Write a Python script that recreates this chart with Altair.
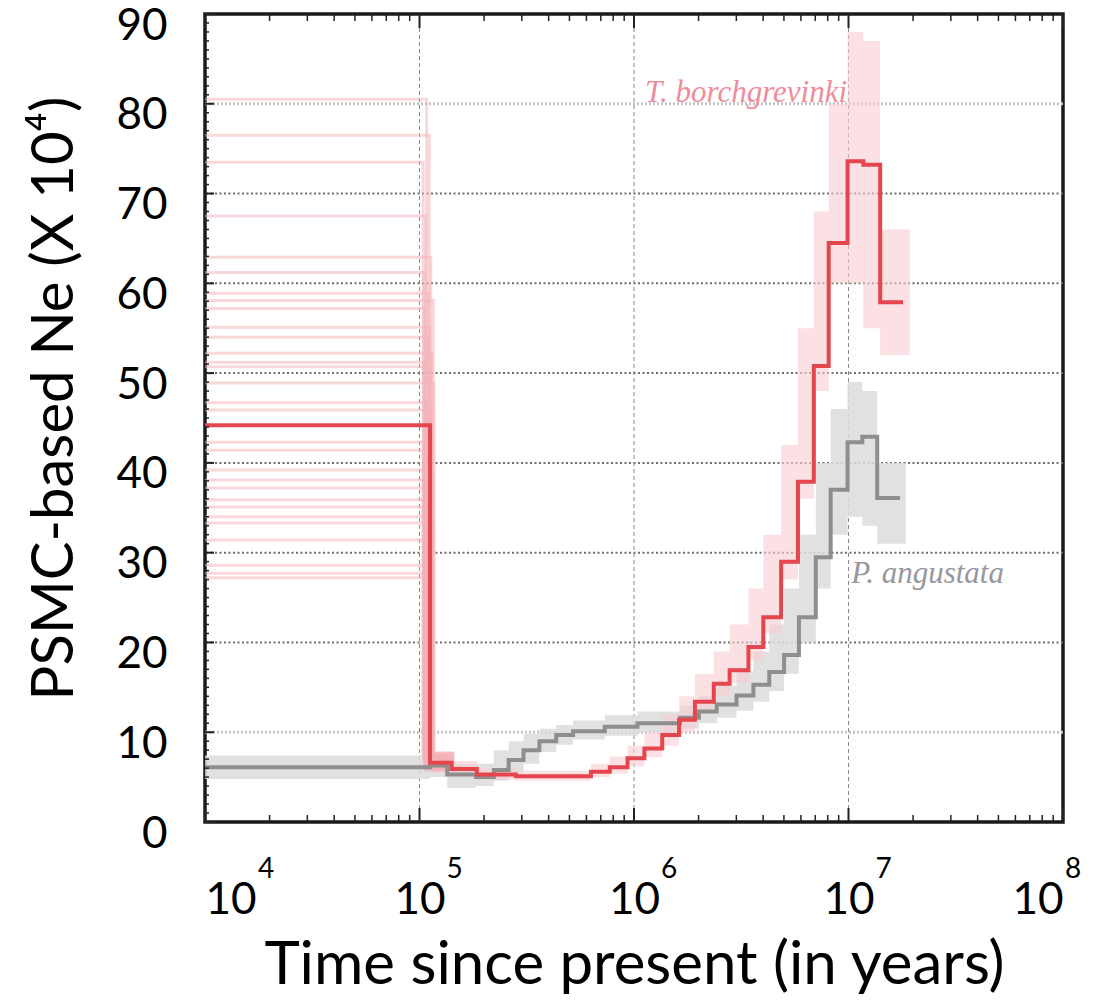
import altair as alt
import pandas as pd

# ---------------- data ----------------
# T. borchgrevinki main PSMC curve (step starts, years) and Ne (x 10^4)
red_t = [1e4, 1.12e5, 1.41e5, 1.85e5, 2.81e5, 6.30e5, 7.71e5, 9.33e5, 1.118e6, 1.354e6,
         1.622e6, 1.923e6, 2.355e6, 2.791e6, 3.417e6, 4.007e6, 4.852e6, 5.813e6, 6.892e6,
         8.084e6, 9.90e6, 1.173e7, 1.405e7, 1.795e7]
red_ne = [44.2, 6.6, 5.9, 5.3, 5.1, 5.6, 6.1, 7.1, 8.2, 9.7, 11.4, 13.4, 15.4, 16.9, 19.5,
          22.8, 29.0, 37.9, 50.8, 64.5, 73.6, 73.2, 57.9, 57.9]

# bootstrap envelope of T. borchgrevinki
red_band_t = [1.12e5, 1.41e5, 1.85e5, 2.81e5, 6.30e5, 7.71e5, 9.33e5, 1.118e6, 1.354e6, 1.622e6,
              1.923e6, 2.355e6, 2.791e6, 3.417e6, 4.007e6, 4.852e6, 5.813e6, 6.892e6, 8.084e6,
              9.90e6, 1.173e7, 1.405e7, 1.93e7]
red_lo = [5.5, 5.0, 4.7, 4.6, 5.0, 5.4, 6.2, 7.2, 8.5, 10.0, 12.0, 14.0, 15.5, 18.0, 21.0,
          27.0, 36.0, 48.0, 60.0, 60.0, 55.0, 52.0, 52.0]
red_hi = [7.5, 6.8, 6.0, 5.7, 6.5, 7.3, 8.5, 10.0, 12.0, 14.0, 16.5, 19.0, 22.0, 26.0, 32.0,
          42.0, 55.0, 68.0, 80.0, 88.0, 87.0, 66.0, 66.0]

# bootstrap lines of T. borchgrevinki in the recent period
boot_level = [80.5, 76.5, 73.5, 67.5, 62.9, 61.2, 58.9, 58.1, 57.2, 55.1, 54.0, 52.2, 51.2,
              50.7, 48.9, 46.7, 45.9, 42.3, 41.4, 39.2, 38.1, 37.2, 35.9, 35.1, 34.0, 33.3,
              31.4, 28.6, 27.7, 27.2]
boot_end = [1.08e5, 1.11e5, 1.04e5, 1.07e5, 1.13e5, 1.05e5, 1.10e5, 1.16e5, 1.06e5, 1.12e5,
            1.09e5, 1.14e5, 1.05e5, 1.11e5, 1.17e5, 1.07e5, 1.13e5, 1.10e5, 1.04e5, 1.15e5,
            1.08e5, 1.12e5, 1.06e5, 1.14e5, 1.09e5, 1.16e5, 1.05e5, 1.11e5, 1.07e5, 1.13e5]
boot_drop = [7.2, 6.4, 7.6, 5.9, 6.8, 7.0, 6.2, 7.4, 6.0, 6.9, 7.7, 6.5, 6.1, 7.3, 6.7, 5.8,
             7.1, 6.3, 7.5, 6.6, 6.0, 7.2, 6.8, 5.9, 7.0, 6.4, 7.6, 6.2, 6.9, 6.5]
boot_tail_end = 1.45e5

# P. angustata main PSMC curve
gray_t = [1e4, 1.12e5, 1.347e5, 1.833e5, 2.221e5, 2.604e5, 3.055e5, 3.622e5, 4.339e5, 5.20e5,
          7.307e5, 1.038e6, 1.64e6, 2.007e6, 2.431e6, 3.006e6, 3.603e6, 4.271e6, 5.010e6,
          5.875e6, 7.041e6, 8.258e6, 9.90e6, 1.160e7, 1.361e7, 1.739e7]
gray_ne = [6.1, 6.3, 5.3, 5.0, 5.8, 6.9, 8.0, 9.0, 9.7, 10.1, 10.6, 11.0, 11.6, 12.3, 13.1,
           14.1, 15.3, 16.7, 18.6, 22.8, 29.5, 37.0, 42.3, 42.9, 36.1, 36.1]
# bootstrap envelope of P. angustata
gray_band_t = gray_t[:-1] + [1.85e7]
gray_lo = [4.8, 5.0, 3.8, 4.0, 4.6, 5.5, 6.5, 7.8, 8.6, 9.2, 9.6, 10.0, 10.4, 11.0, 11.6, 12.4,
           13.4, 14.6, 16.5, 20.0, 26.0, 32.0, 34.0, 33.0, 31.0, 31.0]
gray_hi = [7.4, 7.3, 6.5, 6.5, 8.0, 9.0, 9.8, 10.4, 10.8, 11.3, 11.9, 12.3, 13.0, 14.0, 15.2,
           16.8, 19.0, 22.0, 26.0, 32.0, 40.0, 46.0, 49.0, 48.0, 40.0, 40.0]

# axes / labels
x_ticks = [1e4, 1e5, 1e6, 1e7, 1e8]
x_exp = ["4", "5", "6", "7", "8"]
y_ticks = [0, 10, 20, 30, 40, 50, 60, 70, 80, 90]
grid_dark = [20, 30, 40, 50, 60, 70]
grid_light = [10, 80]
grid_x = [1e5, 1e6, 1e7]
species = ["T. borchgrevinki", "P. angustata"]
species_t = [9.85e6, 1.03e7]
species_ne = [80.2, 26.6]

# ---------------- layout ----------------
W, H = 858, 808
FONT = "Lato"
x_scale = alt.Scale(type="log", domain=[1e4, 1e8], nice=False)
y_scale = alt.Scale(domain=[0, 90], nice=False)

X_AXIS = alt.Axis(values=x_ticks, labelExpr="'10'", labelFont=FONT, labelFontSize=44,
                  labelColor="black", labelBaseline="alphabetic", labelPadding=91,
                  labelFlush=True, labelOverlap=False, labelBound=False,
                  ticks=False, tickSize=0, domain=False, grid=False,
                  title="Time since present (in years)", titleFont=FONT,
                  titleFontSize=60, titleFontWeight="normal", titleColor="black",
                  titleBaseline="alphabetic", titleY=161)
Y_AXIS = alt.Axis(values=y_ticks, labelFont=FONT, labelFontSize=44, labelColor="black",
                  labelPadding=38, labelBaseline="middle", labelOffset=12,
                  labelOverlap=False, labelBound=False, labelFlush=False,
                  ticks=False, tickSize=0, domain=False, grid=False,
                  title="PSMC-based Ne (X 10⁴)", titleFont=FONT, titleFontSize=58,
                  titleFontWeight="normal", titleColor="black", titleAngle=270,
                  titleAlign="center", titleBaseline="middle", titleX=-150, titleY=384)


def X(f):
    return alt.X(f, type="quantitative", scale=x_scale, axis=X_AXIS)


def Y(f):
    return alt.Y(f, type="quantitative", scale=y_scale, axis=Y_AXIS)


red_df = pd.DataFrame({"t": red_t, "ne": red_ne})
gray_df = pd.DataFrame({"t": gray_t, "ne": gray_ne})
red_band_df = pd.DataFrame({"t": red_band_t, "lo": red_lo, "hi": red_hi})
gray_band_df = pd.DataFrame({"t": gray_band_t, "lo": gray_lo, "hi": gray_hi})

rows = []
for i, (lv, te, dr) in enumerate(zip(boot_level, boot_end, boot_drop)):
    rows += [{"b": i, "o": 0, "t": 1e4, "ne": lv},
             {"b": i, "o": 1, "t": te, "ne": dr},
             {"b": i, "o": 2, "t": boot_tail_end, "ne": dr}]
boot_df = pd.DataFrame(rows)

minor_x = [m * 10 ** k for k in range(4, 8) for m in range(2, 10)]
minor_y = [v for v in range(1, 90) if v % 10 != 0]

grid_d = alt.Chart(pd.DataFrame({"v": grid_dark})).mark_rule(
    color="#6e6e6e", strokeDash=[2, 2.5], strokeWidth=2).encode(y=Y("v"))
grid_l = alt.Chart(pd.DataFrame({"v": grid_light})).mark_rule(
    color="#c4c4c4", strokeDash=[2, 2], strokeWidth=3).encode(y=Y("v"))
grid_v = alt.Chart(pd.DataFrame({"t": grid_x})).mark_rule(
    color="#8a8a8a", strokeDash=[4, 3], strokeWidth=1).encode(x=X("t"))

gray_band = alt.Chart(gray_band_df).mark_area(
    interpolate="step-after", color="#dcdcdc", opacity=0.85).encode(x=X("t"), y=Y("lo"), y2="hi")
red_band = alt.Chart(red_band_df).mark_area(
    interpolate="step-after", color="#f9cdd1", opacity=0.6).encode(x=X("t"), y=Y("lo"), y2="hi")
boots = alt.Chart(boot_df).mark_line(
    interpolate="step-after", color="#f3b1b8", strokeWidth=3, opacity=0.5).encode(
    x=X("t"), y=Y("ne"), detail="b:N", order="o:Q")

gray_line = alt.Chart(gray_df).mark_line(
    interpolate="step-after", color="#8e8e8e", strokeWidth=4).encode(x=X("t"), y=Y("ne"))
red_line = alt.Chart(red_df).mark_line(
    interpolate="step-after", color="#e5464e", strokeWidth=4).encode(x=X("t"), y=Y("ne"))

# inward ticks on the frame
tick_major_df = pd.DataFrame({"t": x_ticks})
tick_minor_df = pd.DataFrame({"t": minor_x})
bt_maj = alt.Chart(tick_major_df).mark_rule(color="#222", strokeWidth=2).encode(
    x=X("t"), y=alt.value(H), y2=alt.value(H - 14))
bt_min = alt.Chart(tick_minor_df).mark_rule(color="#222", strokeWidth=1.5).encode(
    x=X("t"), y=alt.value(H), y2=alt.value(H - 7))
tp_maj = alt.Chart(tick_major_df).mark_rule(color="#222", strokeWidth=2).encode(
    x=X("t"), y=alt.value(0), y2=alt.value(14))
tp_min = alt.Chart(tick_minor_df).mark_rule(color="#222", strokeWidth=1.5).encode(
    x=X("t"), y=alt.value(0), y2=alt.value(7))
lt_maj = alt.Chart(pd.DataFrame({"v": y_ticks})).mark_rule(color="#222", strokeWidth=2).encode(
    y=Y("v"), x=alt.value(0), x2=alt.value(9))
lt_min = alt.Chart(pd.DataFrame({"v": minor_y})).mark_rule(color="#222", strokeWidth=1.5).encode(
    y=Y("v"), x=alt.value(0), x2=alt.value(4))

# superscript exponents of x tick labels (first/last labels are flush with the frame)
exp_df = pd.DataFrame({"t": x_ticks, "e": x_exp})
exp_style = dict(align="left", baseline="alphabetic", font=FONT, fontSize=28, color="black")
exps_first = alt.Chart(exp_df.iloc[[0]]).mark_text(dx=53, **exp_style).encode(
    x=X("t"), y=alt.value(H + 56), text="e:N")
exps_mid = alt.Chart(exp_df.iloc[1:4]).mark_text(dx=27, **exp_style).encode(
    x=X("t"), y=alt.value(H + 56), text="e:N")
exps_last = alt.Chart(exp_df.iloc[[4]]).mark_text(dx=2, **exp_style).encode(
    x=X("t"), y=alt.value(H + 56), text="e:N")

# species annotations
sp_df = pd.DataFrame({"s": species, "t": species_t, "ne": species_ne})
sp_red = alt.Chart(sp_df.iloc[[0]]).mark_text(
    align="right", baseline="alphabetic", font="Liberation Serif", fontStyle="italic",
    fontSize=31, color="#ef8c9b").encode(x=X("t"), y=Y("ne"), text="s:N")
sp_gray = alt.Chart(sp_df.iloc[[1]]).mark_text(
    align="left", baseline="alphabetic", font="Liberation Serif", fontStyle="italic",
    fontSize=31, color="#97979c").encode(x=X("t"), y=Y("ne"), text="s:N")

chart = alt.layer(
    grid_d, grid_l, grid_v, gray_band, red_band, boots, gray_line, red_line,
    bt_maj, bt_min, tp_maj, tp_min, lt_maj, lt_min, exps_first, exps_mid, exps_last,
    sp_red, sp_gray
).properties(
    width=W, height=H,
    autosize=alt.AutoSizeParams(type="none"),
    padding={"left": 205, "top": 14, "right": 37, "bottom": 178},
    background="white",
).configure_view(stroke="#1a1a1a", strokeWidth=3.5)

chart.save("out.html", embed_options={"renderer": "svg", "actions": False})
